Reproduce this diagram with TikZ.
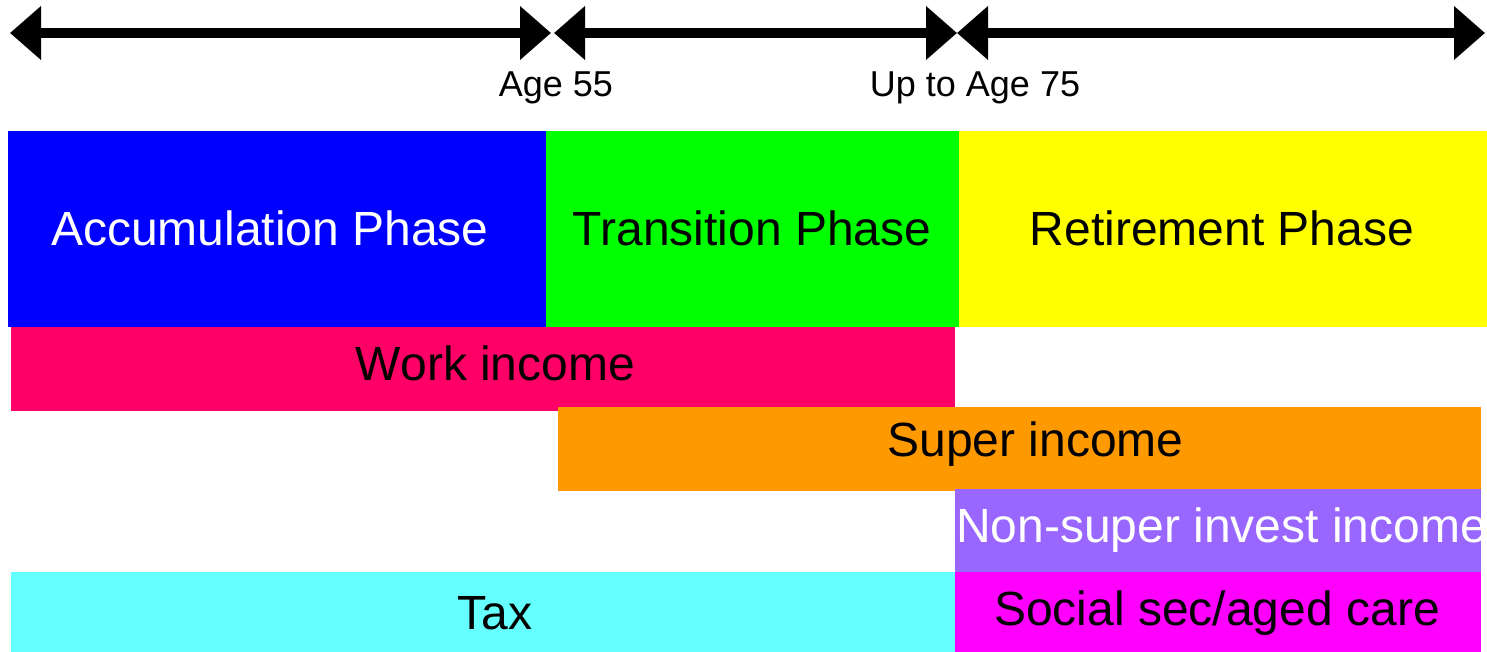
\documentclass[tikz,border=0pt]{standalone}
\usepackage{fontspec}
\setmainfont{Liberation Sans}
\usetikzlibrary{arrows.meta}

\definecolor{accblue}{HTML}{0000FF}
\definecolor{trangreen}{HTML}{00FF00}
\definecolor{retyellow}{HTML}{FFFF00}
\definecolor{workpink}{HTML}{FF0066}
\definecolor{superorange}{HTML}{FF9900}
\definecolor{investpurple}{HTML}{9966FF}
\definecolor{taxcyan}{HTML}{66FFFF}
\definecolor{socmagenta}{HTML}{FF00FF}

\tikzset{
  span/.style={line width=7.5pt,
    {Triangle[length=23.25pt,width=39pt]}-{Triangle[length=23.25pt,width=39pt]}},
  marklabel/.style={inner sep=0pt, anchor=base, font=\fontsize{27}{32}\selectfont},
  barlabel/.style={inner sep=0pt, anchor=base, font=\fontsize{36}{43}\selectfont},
}

\begin{document}
\begin{tikzpicture}[x=0.75pt,y=-0.75pt]
\useasboundingbox (0,0) rectangle (1487,652);

% timeline end points
\coordinate (t0) at (10,33);
\coordinate (t1) at (551,33);
\coordinate (t1b) at (554,33);
\coordinate (t2) at (957,33);
\coordinate (t3) at (1485,33);

\draw[span] (t0) -- (t1);
\draw[span] (t1b) -- (t2);
\draw[span] (t2) -- (t3);

\node[marklabel] (age55) at (556,97) {Age 55};
\node[marklabel] (age75) at (975,97) {Up to Age 75};

% life phases
\fill[accblue] (8,131) rectangle (546,327);
\fill[trangreen] (546,131) rectangle (959,327);
\fill[retyellow] (959,131) rectangle (1487,327);
\node[barlabel, text=white] (accum) at (270,245) {Accumulation Phase};
\node[barlabel] (trans) at (752,245) {Transition Phase};
\node[barlabel] (retire) at (1222,245) {Retirement Phase};

% income sources
\fill[workpink] (11,327) rectangle (955,411);
\node[barlabel] (work) at (495.5,380) {Work income};

\fill[superorange] (558,407) rectangle (1481,491);
\node[barlabel] (super) at (1035.5,456.7) {Super income};

\begin{scope}
  \clip (955,489) rectangle (1481,572);
  \fill[investpurple] (955,489) rectangle (1481,572);
  \node[barlabel, text=white] (invest) at (1221.5,542) {Non-super invest income};
\end{scope}

% outgoings
\fill[taxcyan] (11,572) rectangle (955,652);
\node[barlabel] (tax) at (495,629) {Tax};

\fill[socmagenta] (955,572) rectangle (1481,652);
\node[barlabel] (social) at (1217,625) {Social sec/aged care};
\end{tikzpicture}
\end{document}
